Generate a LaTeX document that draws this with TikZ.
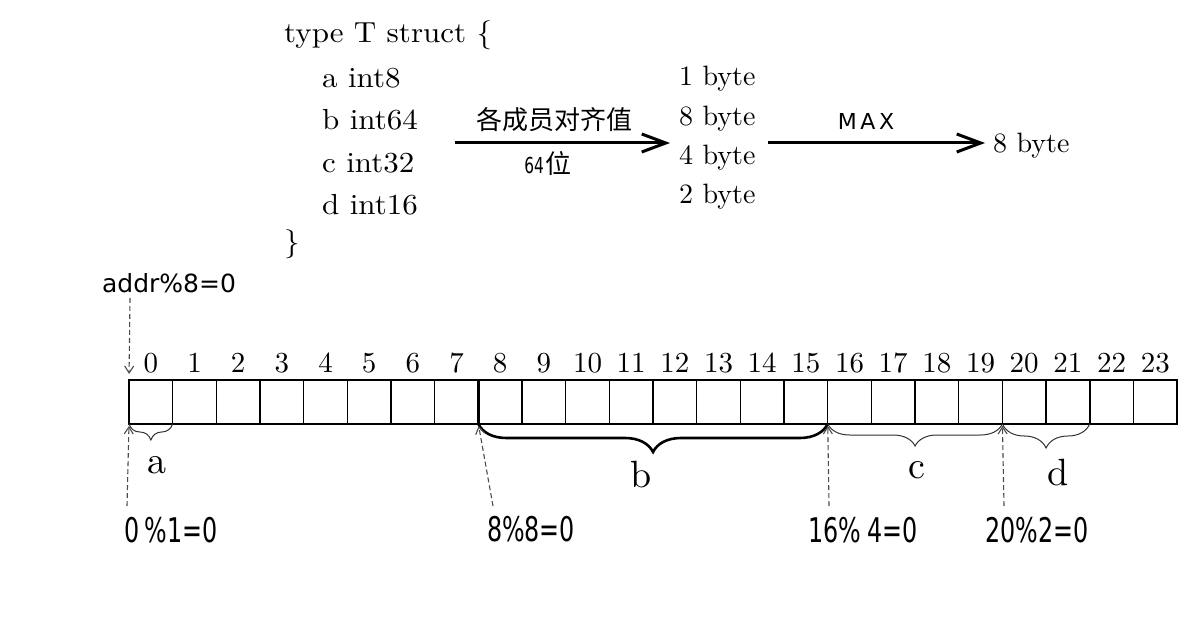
\documentclass[tikz,border=0pt]{standalone}
\usepackage{fontspec}
\newfontfamily\codefont{lmroman10-regular}[Extension=.otf,FakeStretch=1.07]
\newfontfamily\plainfont{lmroman10-regular}[Extension=.otf]
\newfontfamily\handfont{DejaVu Sans}
\newfontfamily\handnarrow{DejaVu Sans}[FakeStretch=0.7]
\newfontfamily\cjkfont{Noto Sans CJK SC}
\usetikzlibrary{arrows.meta,decorations.pathreplacing,calc}
\tikzset{
  codetxt/.style={anchor=base west,inner sep=0pt,font=\codefont\fontsize{29}{32}\selectfont},
  bytetxt/.style={anchor=base west,inner sep=0pt,font=\plainfont\fontsize{28}{30}\selectfont},
  cell/.style={draw,line width=1.5pt,minimum width=43.67pt,minimum height=44pt,inner sep=0pt,outer sep=0pt},
  numlbl/.style={anchor=base,inner sep=0pt,yshift=7pt,font=\plainfont\fontsize{29}{30}\selectfont},
  memlbl/.style={anchor=base,inner sep=0pt,font=\plainfont\fontsize{38}{40}\selectfont},
  modlbl/.style={inner sep=0pt,font=\handnarrow\fontsize{34}{36}\selectfont},
  bigarrow/.style={line width=3pt,-{Straight Barb[length=24pt,width=18pt]}},
  dasharrow/.style={line width=1.1pt,draw=black!70,dash pattern=on 5pt off 3pt,-{Straight Barb[length=7pt,width=9pt]}},
  bracethin/.style={line width=1pt,draw=black!80,decorate,decoration={brace,mirror,amplitude=#1}},
  bracethick/.style={line width=2.6pt,decorate,decoration={brace,mirror,amplitude=#1}}
}
\begin{document}
\begin{tikzpicture}[x=1pt,y=-1pt]
\useasboundingbox[fill=white] (0,0) rectangle (1200,620);

% struct definition
\node[codetxt] (ltype) at (284,43) {type T struct \{};
\node[codetxt] (la) at (322,88) {a int8};
\node[codetxt] (lb) at (322,130) {b int64};
\node[codetxt] (lc) at (322,173) {c int32};
\node[codetxt] (ld) at (322,215) {d int16};
\node[codetxt] (lend) at (284,252) {\}};

% alignment values
\node[bytetxt] (y1) at (679,86) {1 byte};
\node[bytetxt] (y8) at (679,126) {8 byte};
\node[bytetxt] (y4) at (679,165) {4 byte};
\node[bytetxt] (y2) at (679,204) {2 byte};
\node[bytetxt] (ymax) at (993,153) {8 byte};

\coordinate (arA0) at (455,143);
\coordinate (arA1) at (670,143);
\coordinate (arB0) at (768,143);
\coordinate (arB1) at (985,143);
\draw[bigarrow] (arA0) -- (arA1);
\draw[bigarrow] (arB0) -- (arB1);
\node[inner sep=0pt,font=\cjkfont\fontsize{26}{28}\selectfont] (lalign) at (554,120) {各成员对齐值};
\node[inner sep=0pt] (l64) at (548,164) {{\handnarrow\fontsize{22}{24}\selectfont 64}\,{\cjkfont\fontsize{26}{28}\selectfont 位}};
\node[inner sep=0pt,font=\handfont\fontsize{22}{24}\selectfont] (lmax) at (866,121) {M\,A\,X};

% memory cells
\foreach \i in {0,...,23}{
  \node[cell] (c\i) at ({129+43.67*\i+21.835},402) {};
  \node[numlbl] (n\i) at (c\i.north) {\i};
}
\draw[line width=2.6pt] (c8.north west) -- (c8.south west);

% braces
\draw[bracethin=16pt] (c0.south west) -- (c0.south east);
\draw[bracethick=28pt] (c8.south west) -- (c15.south east);
\draw[bracethin=22pt] (c16.south west) -- (c19.south east);
\draw[bracethin=24pt] (c20.south west) -- (c21.south east);
\node[memlbl] (ma) at (157,473) {a};
\node[memlbl] (mb) at (641,487) {b};
\node[memlbl] (mc) at (917,478) {c};
\node[memlbl] (md) at (1058,485) {d};

% address note
\node[inner sep=0pt,font=\handfont\fontsize{25}{27}\selectfont] (laddr) at (169,283) {addr\%8=0};
\coordinate (sA) at (130,298);
\draw[dasharrow,shorten >=6pt] (sA) -- (c0.north west);

% offset checks
\node[modlbl] (m0) at (171,530) {0\,\%1=0};
\node[modlbl] (m8) at (531,529) {8\%8=0};
\node[modlbl] (m16) at (863,530) {16\%\,4=0};
\node[modlbl] (m20) at (1037,530) {20\%2=0};
\coordinate (s0) at (127,506);
\coordinate (s8) at (493,506);
\coordinate (s16) at (829,506);
\coordinate (s20) at (1004,506);
\draw[dasharrow,shorten >=2pt] (s0) -- (c0.south west);
\draw[dasharrow,shorten >=2pt] (s8) -- (c8.south west);
\draw[dasharrow,shorten >=2pt] (s16) -- (c16.south west);
\draw[dasharrow,shorten >=2pt] (s20) -- (c20.south west);
\end{tikzpicture}
\end{document}
